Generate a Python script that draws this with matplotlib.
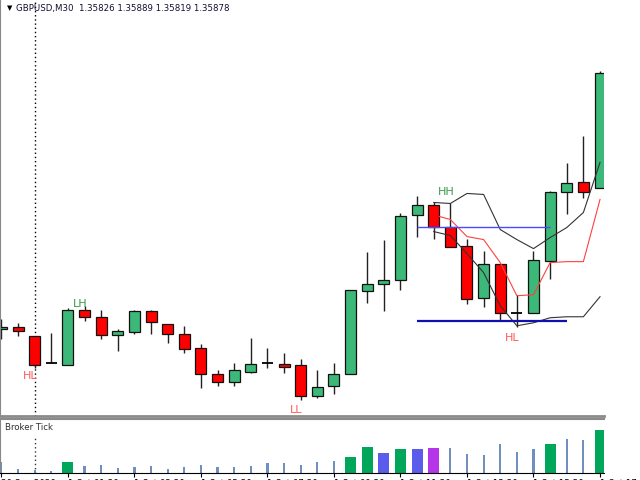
import matplotlib
matplotlib.use('Agg')
import matplotlib.pyplot as plt
from matplotlib.patches import Rectangle

plt.rcParams['font.family'] = ['DejaVu Sans']

# ── data: GBPUSD M30 bars (open, high, low, close) ─────────────
opens  = [1.35672, 1.35674, 1.35665, 1.35638, 1.35636, 1.35691, 1.35684, 1.35666,
          1.35669, 1.35690, 1.35677, 1.35667, 1.35653, 1.35627, 1.35619, 1.35629,
          1.35638, 1.35637, 1.35636, 1.35605, 1.35615, 1.35627, 1.35710, 1.35717,
          1.35721, 1.35786, 1.35795, 1.35774, 1.35755, 1.35703, 1.35737, 1.35688,
          1.35688, 1.35740, 1.35808, 1.35818, 1.35812]
highs  = [1.35682, 1.35678, 1.35665, 1.35668, 1.35693, 1.35695, 1.35691, 1.35672,
          1.35691, 1.35691, 1.35677, 1.35675, 1.35657, 1.35631, 1.35638, 1.35663,
          1.35653, 1.35648, 1.35642, 1.35631, 1.35638, 1.35711, 1.35749, 1.35761,
          1.35788, 1.35804, 1.35798, 1.35797, 1.35762, 1.35750, 1.35737, 1.35706,
          1.35750, 1.35809, 1.35837, 1.35864, 1.35929]
lows   = [1.35662, 1.35665, 1.35633, 1.35638, 1.35636, 1.35680, 1.35662, 1.35650,
          1.35667, 1.35667, 1.35658, 1.35648, 1.35613, 1.35615, 1.35615, 1.35628,
          1.35633, 1.35628, 1.35601, 1.35603, 1.35607, 1.35627, 1.35698, 1.35690,
          1.35711, 1.35764, 1.35762, 1.35754, 1.35697, 1.35694, 1.35680, 1.35674,
          1.35688, 1.35722, 1.35787, 1.35802, 1.35812]
closes = [1.35674, 1.35670, 1.35636, 1.35638, 1.35691, 1.35684, 1.35666, 1.35670,
          1.35690, 1.35679, 1.35667, 1.35652, 1.35627, 1.35619, 1.35631, 1.35637,
          1.35638, 1.35634, 1.35605, 1.35614, 1.35627, 1.35711, 1.35717, 1.35721,
          1.35785, 1.35795, 1.35774, 1.35754, 1.35702, 1.35737, 1.35688, 1.35688,
          1.35741, 1.35808, 1.35817, 1.35808, 1.35927]

# broker tick volume and bar class per bar
ticks = [220, 80, 60, 40, 220, 140, 160, 100, 120, 140, 80, 120, 160, 120, 120, 140,
         200, 200, 160, 220, 240, 320, 520, 400, 480, 480, 500, 500, 380, 360, 580, 420,
         480, 580, 680, 660, 860]
tick_kind = ['n', 'n', 'n', 'n', 'g', 'n', 'n', 'n', 'n', 'n', 'n', 'n', 'n', 'n', 'n', 'n',
             'n', 'n', 'n', 'n', 'n', 'g', 'g', 'b', 'g', 'b', 'p', 'n', 'n', 'n', 'n', 'n',
             'n', 'g', 'n', 'n', 'g']

# channel lines, from bar 26 onward
line_start  = 26
upper_black = [1.35798, 1.35797, 1.35807, 1.35806, 1.35771, 1.35761, 1.35752, 1.35763,
               1.35773, 1.35788, 1.35838]
lower_black = [1.35769, 1.35765, 1.35747, 1.35728, 1.35695, 1.35675, 1.35678, 1.35683,
               1.35684, 1.35684, 1.35704]
red_line    = [1.35784, 1.35781, 1.35764, 1.35761, 1.35738, 1.35705, 1.35706, 1.35738,
               1.35739, 1.35739, 1.35801]

# horizontal levels (price, first bar, last bar)
level_hi = (1.35774, 25, 33)
level_lo = (1.35680, 25, 34)

# swing labels (text, bar position, price, kind)
swing_text  = ['HL', 'LH', 'LL', 'HH', 'HL']
swing_bar   = [1.72, 4.73, 17.7, 26.73, 30.7]
swing_price = [1.35625, 1.35697, 1.35591, 1.35808, 1.35663]
swing_up    = [False, True, False, True, False]

time_labels = ['30 Sep 2020', '1 Oct 01:30', '1 Oct 03:30', '1 Oct 05:30', '1 Oct 07:30',
               '1 Oct 09:30', '1 Oct 11:30', '1 Oct 13:30', '1 Oct 15:30', '1 Oct 17:30']

GREEN = '#3cb878'
RED = '#ff0000'
n = len(opens)
xs = list(range(n))
XLIM = (-0.084, 36.24)

fig = plt.figure(figsize=(6.4, 4.8), dpi=100, facecolor='white')
W, H = 640, 480
ax = fig.add_axes([0, 1 - 416 / H, 604 / W, 416 / H])
axv = fig.add_axes([0, 1 - 473 / H, 604 / W, (473 - 419) / H])

# ── main panel ───────────────────────────────────────────────
ax.axvline(2, color='black', lw=1, ls=(0, (1, 2)), zorder=0)
body_w = 0.66
for i in xs:
    o, h, l, c = opens[i], highs[i], lows[i], closes[i]
    ax.vlines(i, l, h, color='#222222', lw=1, zorder=1)
    if abs(c - o) < 1e-7:
        ax.hlines(o, i - body_w / 2, i + body_w / 2, color='black', lw=1.3, zorder=2)
    else:
        ax.add_patch(Rectangle((i - body_w / 2, min(o, c)), body_w, abs(c - o),
                               facecolor=GREEN if c > o else RED, edgecolor='#111111',
                               lw=0.9, zorder=2))

lx = [line_start + k for k in range(len(red_line))]
ax.plot(lx, upper_black, color='#333333', lw=0.8, zorder=3)
ax.plot(lx, lower_black, color='#333333', lw=0.8, zorder=3)
ax.plot([lx[0] + 0.35] + lx[1:], red_line, color='#ff4040', lw=0.8, zorder=3)

ax.hlines(level_hi[0], level_hi[1], level_hi[2], color='#4a4aff', lw=1, zorder=3)
ax.hlines(level_lo[0], level_lo[1], level_lo[2], color='#1010b0', lw=1.6, zorder=3)

for t, b, p, up in zip(swing_text, swing_bar, swing_price, swing_up):
    ax.text(b, p, t, color='#3a9a4a' if up else '#ff5a5a', fontsize=8,
            ha='center', va='center', zorder=4)

ax.text(0.012, 0.988, '\u25bc', transform=ax.transAxes, fontsize=5, color='black',
        ha='left', va='top')
ax.text(0.027, 0.991, 'GBPUSD,M30  1.35826 1.35889 1.35819 1.35878', transform=ax.transAxes,
        fontsize=6.2, color='#101030', ha='left', va='top')

ax.set_xlim(*XLIM)
ax.set_ylim(1.35585, 1.36000)
ax.set_xticks([])
ax.set_yticks([])
for s in ['top', 'right']:
    ax.spines[s].set_visible(False)
ax.spines['left'].set_color('#888888')
ax.spines['bottom'].set_color('#8a8a8a')
ax.spines['bottom'].set_linewidth(2)

# ── broker tick panel ────────────────────────────────────────
kind_color = {'g': '#00a65a', 'b': '#5b5bec', 'p': '#b436e8'}
for i in xs:
    k = tick_kind[i]
    if k == 'n':
        axv.bar(i, ticks[i], width=0.13, color='#6f8fbf', zorder=2)
    else:
        axv.bar(i, ticks[i], width=0.66, color=kind_color[k], zorder=2)
axv.axvline(2, color='#333333', lw=1, ls=(0, (1, 2)), ymax=0.68, zorder=1)
axv.text(0.008, 0.93, 'Broker Tick', transform=axv.transAxes, fontsize=6.2,
         color='#303030', ha='left', va='top')
axv.set_xlim(*XLIM)
axv.set_ylim(0, 1080)
axv.set_yticks([])
tick_pos = list(range(0, n, 4))
axv.set_xticks(tick_pos)
axv.set_xticklabels(time_labels[:len(tick_pos)], fontsize=6.2, ha='left')
axv.tick_params(axis='x', length=3, pad=1, color='black')
axv.spines['right'].set_visible(False)
axv.spines['left'].set_color('#888888')
axv.spines['bottom'].set_color('black')
axv.spines['top'].set_color('#8a8a8a')
axv.spines['top'].set_linewidth(1.5)

fig.savefig('out.png', dpi=100, facecolor='white')
